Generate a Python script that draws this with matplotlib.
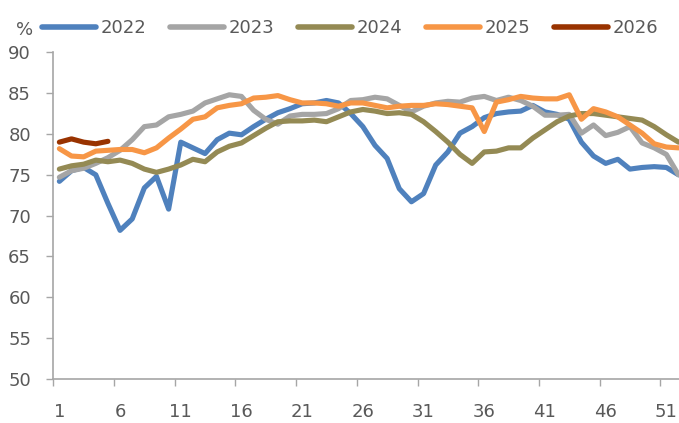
import matplotlib.pyplot as plt

# semanas 1..52
semanas = list(range(1, 53))

v2022 = [74.2, 75.5, 75.9, 75.0, 71.5, 68.2, 69.6, 73.4, 74.8, 70.8,
         79.0, 78.3, 77.6, 79.3, 80.1, 79.9, 80.9, 81.8, 82.6, 83.1,
         83.7, 83.8, 84.1, 83.8, 82.5, 80.9, 78.6, 77.0, 73.3, 71.7,
         72.7, 76.2, 77.8, 80.1, 80.9, 82.0, 82.5, 82.7, 82.8, 83.5,
         82.7, 82.4, 81.8, 79.0, 77.3, 76.4, 76.9, 75.7, 75.9, 76.0,
         75.9, 75.0]
v2023 = [74.7, 75.5, 75.8, 76.4, 77.1, 78.0, 79.3, 80.9, 81.1, 82.1,
         82.4, 82.8, 83.8, 84.3, 84.8, 84.6, 82.9, 81.8, 81.2, 82.2,
         82.4, 82.4, 82.5, 83.1, 84.1, 84.2, 84.5, 84.3, 83.5, 82.7,
         83.4, 83.8, 84.0, 83.9, 84.4, 84.6, 84.1, 84.5, 84.1, 83.4,
         82.3, 82.3, 82.4, 80.1, 81.1, 79.8, 80.2, 80.9, 78.9, 78.3,
         77.5, 75.0]
v2024 = [75.7, 76.1, 76.3, 76.8, 76.6, 76.8, 76.4, 75.7, 75.3, 75.7,
         76.2, 76.9, 76.6, 77.8, 78.5, 78.9, 79.8, 80.7, 81.5, 81.6,
         81.6, 81.7, 81.5, 82.1, 82.7, 83.0, 82.8, 82.5, 82.6, 82.4,
         81.5, 80.3, 79.0, 77.5, 76.4, 77.8, 77.9, 78.3, 78.3, 79.5,
         80.5, 81.5, 82.2, 82.5, 82.5, 82.3, 82.1, 81.9, 81.7, 80.9,
         79.9, 79.0]
v2025 = [78.2, 77.3, 77.2, 77.9, 78.0, 78.1, 78.1, 77.7, 78.3, 79.5,
         80.6, 81.8, 82.1, 83.2, 83.5, 83.7, 84.4, 84.5, 84.7, 84.2,
         83.8, 83.8, 83.7, 83.4, 83.8, 83.8, 83.5, 83.2, 83.4, 83.5,
         83.5, 83.7, 83.6, 83.4, 83.2, 80.3, 83.9, 84.2, 84.6, 84.4,
         84.3, 84.3, 84.8, 81.8, 83.1, 82.7, 82.1, 81.1, 80.1, 78.8,
         78.4, 78.3]
v2026 = [79.0, 79.4, 79.0, 78.8, 79.1]

series = [('2022', v2022, '#4F81BD'),
          ('2023', v2023, '#A5A5A5'),
          ('2024', v2024, '#948A54'),
          ('2025', v2025, '#F79646'),
          ('2026', v2026, '#993300')]

texto = '#595959'
eixo = '#A6A6A6'

fig = plt.figure(figsize=(6.79, 4.23), dpi=100)
W, H = 679, 423
ax = fig.add_axes([53.3 / W, (H - 379) / H, (W - 53.3) / W, (379 - 52.3) / H])

for nome, vals, cor in series:
    ax.plot(semanas[:len(vals)], vals, color=cor, lw=3.7, label=nome,
            solid_capstyle='round', solid_joinstyle='round')

ax.set_ylim(50, 90)
ax.set_yticks(range(50, 91, 5))
ax.set_xlim(0.5, (W - 53.3) / 12.14 + 0.5)

# marcas entre categorias, rotulos no centro
ax.set_xticks([0.5 + 5 * k for k in range(11)])
ax.set_xticklabels([])
ax.set_xticks(list(range(1, 53, 5)), minor=True)
ax.set_xticklabels([str(i) for i in range(1, 53, 5)], minor=True)
ax.tick_params(axis='x', which='major', length=5, width=1, color=eixo, direction='out')
ax.tick_params(axis='x', which='minor', length=0, pad=17, labelsize=13, labelcolor=texto)
ax.tick_params(axis='y', length=5, width=1, color=eixo, pad=11, labelsize=13, labelcolor=texto)

for lado in ['top', 'right']:
    ax.spines[lado].set_visible(False)
ax.spines['left'].set_color(eixo)
ax.spines['bottom'].set_color(eixo)
ax.spines['left'].set_linewidth(1.2)
ax.spines['bottom'].set_linewidth(1.2)

fig.text(25 / W, 1 - 30 / H, '%', fontsize=13, color=texto, ha='center', va='center')
leg = fig.legend(loc='center left', bbox_to_anchor=(42 / W, 1 - 28 / H), ncol=5,
                 frameon=False, fontsize=13, handlelength=3.0, handletextpad=0.25,
                 columnspacing=1.3, borderpad=0, borderaxespad=0)
for t in leg.get_texts():
    t.set_color(texto)
for l in leg.get_lines():
    l.set_linewidth(4)
    l.set_solid_capstyle('round')

fig.savefig('out.png', dpi=100)
